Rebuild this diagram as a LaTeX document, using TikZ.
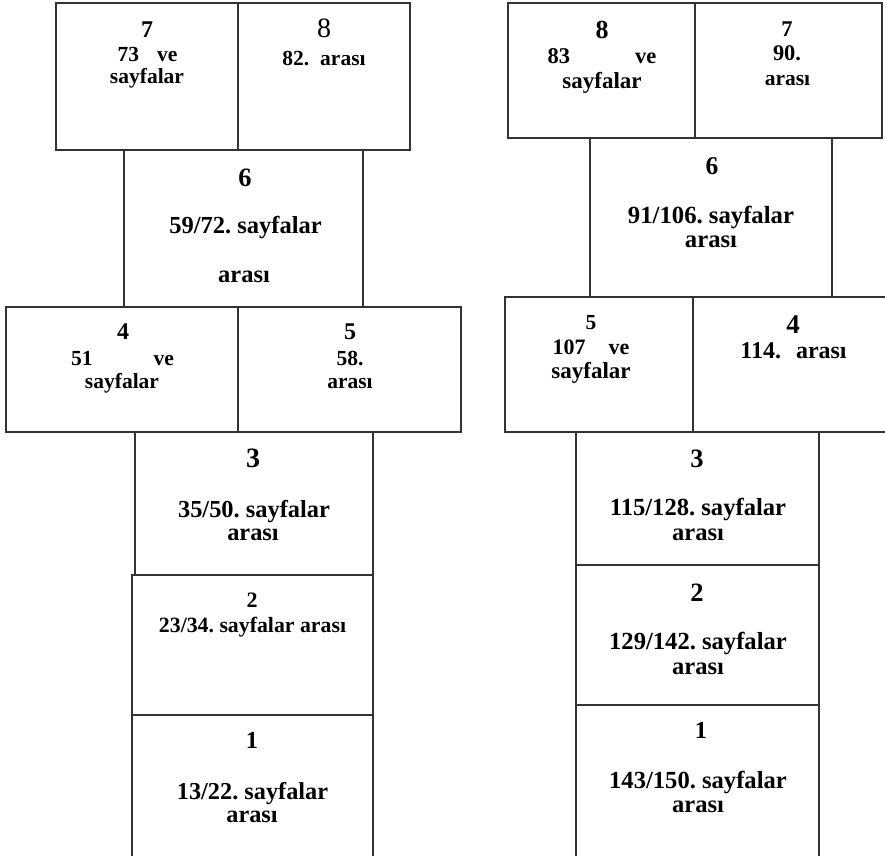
\documentclass[tikz,border=0pt]{standalone}
\usepackage{fontspec}
\setmainfont{Liberation Serif}
\usetikzlibrary{fit}
\definecolor{linegray}{HTML}{333333}
\tikzset{
  cell/.style={draw=linegray, line width=1.2pt, inner sep=0pt, outer sep=0pt, rectangle},
  txt/.style={anchor=base, inner sep=0pt, outer sep=0pt},
  fs/.style={font=\fontsize{#1}{#1}\selectfont\bfseries},
  fr/.style={font=\fontsize{#1}{#1}\selectfont},
}
\frenchspacing
\begin{document}
\begin{tikzpicture}[x=1pt, y=-1pt]
\useasboundingbox (0,0) rectangle (885,855);
% ---------- left stack ----------
\node[cell, fit={(56,3) (238,150)}] (L7) {};
\node[cell, fit={(238,3) (410,150)}] (L8) {};
\node[cell, fit={(124,150) (363,307)}] (L6) {};
\node[cell, fit={(6,307) (238,432)}] (L4) {};
\node[cell, fit={(238,307) (461,432)}] (L5) {};
\node[cell, fit={(135,432) (373,575)}] (L3) {};
\node[cell, fit={(132,575) (373,715)}] (L2) {};
\node[cell, fit={(132,715) (373,875)}] (L1) {};
% ---------- right stack ----------
\node[cell, fit={(508,3) (695,138)}] (R8) {};
\node[cell, fit={(695,3) (882,138)}] (R7) {};
\node[cell, fit={(590,138) (832,297)}] (R6) {};
\node[cell, fit={(505,297) (693,432)}] (R5) {};
\node[cell, fit={(693,297) (905,432)}] (R4) {};
\node[cell, fit={(576,432) (819,565)}] (R3) {};
\node[cell, fit={(576,565) (819,705)}] (R2) {};
\node[cell, fit={(576,705) (819,875)}] (R1) {};

% ---------- left texts ----------
\node[txt, fs=24] (tL7a) at (147,37) {7};
\node[txt, fs=21.5] (tL7b) at (147.5,61) {73\hspace{18pt}ve};
\node[txt, fs=21.5] (tL7c) at (147,83) {sayfalar};
\node[txt, fr=28] (tL8a) at (324,37) {8};
\node[txt, fs=21.5] (tL8b) at (324,65) {82.\hspace{11pt}arası};

\node[txt, fs=26.5] (tL6a) at (245,186) {6};
\node[txt, fs=24.5] (tL6b) at (245.5,233) {59/72. sayfalar};
\node[txt, fs=24.5] (tL6c) at (244,282) {arası};

\node[txt, fs=24] (tL4a) at (123,339) {4};
\node[txt, fs=21.5] (tL4b) at (122.5,365) {51\hspace{61pt}ve};
\node[txt, fs=21.5] (tL4c) at (122,388) {sayfalar};
\node[txt, fs=24] (tL5a) at (350,339) {5};
\node[txt, fs=21.5] (tL5b) at (350,365) {58.};
\node[txt, fs=21.5] (tL5c) at (350,388) {arası};

\node[txt, fs=28] (tL3a) at (253,467) {3};
\node[txt, fs=24.4] (tL3b) at (254,517) {35/50. sayfalar};
\node[txt, fs=24.4] (tL3c) at (253,540) {arası};

\node[txt, fs=22] (tL2a) at (252,607) {2};
\node[txt, fs=21.8] (tL2b) at (252.5,632) {23/34. sayfalar arası};

\node[txt, fs=24.5] (tL1a) at (252,748) {1};
\node[txt, fs=24.3] (tL1b) at (252.5,799) {13/22. sayfalar};
\node[txt, fs=24.3] (tL1c) at (252,822) {arası};

% ---------- right texts ----------
\node[txt, fs=26] (tR8a) at (602,38) {8};
\node[txt, fs=22.5] (tR8b) at (602,63) {83\hspace{65pt}ve};
\node[txt, fs=23] (tR8c) at (602,88) {sayfalar};
\node[txt, fs=22.5] (tR7a) at (787,36) {7};
\node[txt, fs=22.4] (tR7b) at (787,60) {90.};
\node[txt, fs=21.5] (tR7c) at (787.5,85) {arası};

\node[txt, fs=25.5] (tR6a) at (712,174) {6};
\node[txt, fs=24.7] (tR6b) at (711,223) {91/106. sayfalar};
\node[txt, fs=24.7] (tR6c) at (711,247) {arası};

\node[txt, fs=21.5] (tR5a) at (591,329) {5};
\node[txt, fs=22] (tR5b) at (591,354) {107\hspace{23pt}ve};
\node[txt, fs=23] (tR5c) at (591,378) {sayfalar};
\node[txt, fs=27] (tR4a) at (793,333) {4};
\node[txt, fs=24] (tR4b) at (793.5,358) {114.\hspace{15pt}arası};

\node[txt, fs=26.5] (tR3a) at (697,467) {3};
\node[txt, fs=24.6] (tR3b) at (698,515) {115/128. sayfalar};
\node[txt, fs=24.6] (tR3c) at (698,540) {arası};

\node[txt, fs=26.5] (tR2a) at (697,601) {2};
\node[txt, fs=24.6] (tR2b) at (698,649) {129/142. sayfalar};
\node[txt, fs=24.6] (tR2c) at (698,674) {arası};

\node[txt, fs=24.5] (tR1a) at (701,738) {1};
\node[txt, fs=24.6] (tR1b) at (698,788) {143/150. sayfalar};
\node[txt, fs=24.6] (tR1c) at (698,812) {arası};
\end{tikzpicture}
\end{document}
